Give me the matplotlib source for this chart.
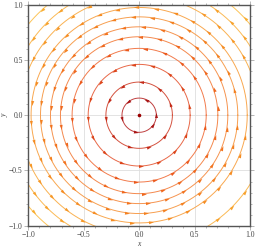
import numpy as np
import matplotlib
matplotlib.use("Agg")
import matplotlib.pyplot as plt
from matplotlib.colors import LinearSegmentedColormap
from matplotlib.markers import MarkerStyle
from matplotlib.path import Path
from matplotlib.transforms import Affine2D

# Streamlines of the field (-y, x): radius, start angle, end angle (deg), first-arrow angle (deg)
arc_radius = [0.155, 0.30, 0.46, 0.605, 0.71, 0.80, 0.89, 0.975,
              1.08, 1.08, 1.08,
              1.18, 1.18, 1.18, 1.18,
              1.295, 1.295, 1.295]
arc_start = [0, 0, 0, 0, 0, 0, 0, 0,
             0, 90, 180,
             0, 90, 180, 270,
             0, 90, 180]
arc_end = [360, 360, 360, 360, 360, 360, 360, 360,
           90, 180, 270,
           90, 180, 270, 360,
           90, 180, 270]
arc_phase = [0, 20, 10, 35, 5, 25, 15, 40,
             30, 115, 205,
             20, 110, 200, 290,
             35, 125, 215]
arrow_spacing = 0.175
x_ticks = [-1.0, -0.5, 0.0, 0.5, 1.0]
y_ticks = [-1.0, -0.5, 0.0, 0.5, 1.0]
tick_labels = ["\u22121.0", "\u22120.5", "0.0", "0.5", "1.0"]

line_cmap = LinearSegmentedColormap.from_list("lines", [
    (0.0, "#a01515"), (0.12, "#c04040"), (0.23, "#d4523f"), (0.35, "#e86848"),
    (0.47, "#f27c4c"), (0.62, "#f69550"), (0.77, "#f9ab50"), (1.0, "#fcc458")])
arrow_cmap = LinearSegmentedColormap.from_list("arrows", [
    (0.0, "#950505"), (0.12, "#a81515"), (0.23, "#c42a18"), (0.35, "#dc441a"),
    (0.47, "#eb5a1c"), (0.62, "#f2741e"), (0.77, "#f58f22"), (1.0, "#f8ac30")])

fig = plt.figure(figsize=(2.56, 2.49), dpi=100)
ax = fig.add_axes([28.3 / 256, 1 - 225.7 / 249, (250 - 28.3) / 256, (225.7 - 4.7) / 249])
ax.set_xlim(-1, 1)
ax.set_ylim(-1, 1)

head = Path([(1.0, 0.0), (-1.0, 0.6), (-1.0, -0.6), (1.0, 0.0)],
            [Path.MOVETO, Path.LINETO, Path.LINETO, Path.CLOSEPOLY])

for r, a0, a1, ph in zip(arc_radius, arc_start, arc_end, arc_phase):
    c = r / 1.3
    th = np.radians(np.linspace(a0, a1, 400))
    ax.plot(r * np.cos(th), r * np.sin(th), color=line_cmap(c), lw=0.7, zorder=2)
    step = np.degrees(arrow_spacing / r)
    ang = ph
    while ang < a0:
        ang += step
    while ang <= a1 - 0.3 * step or (a1 - a0 == 360 and ang < a1):
        if a1 - a0 == 360 and ang >= a0 + 360 - 0.5 * step:
            break
        t = np.radians(ang)
        px, py = r * np.cos(t), r * np.sin(t)
        if abs(px) < 0.99 and abs(py) < 0.99:
            m = MarkerStyle(head, transform=Affine2D().rotate_deg(ang + 90))
            ax.plot(px, py, marker=m, ms=3.6, color=arrow_cmap(c), mec="none", zorder=3)
        ang += step

ax.plot(0, 0, "o", ms=2.6, color="#9a0000", mec="none", zorder=4)

for v in [-0.5, 0.0, 0.5]:
    ax.axvline(v, color="#dedede", lw=0.6, zorder=1)
    ax.axhline(v, color="#dedede", lw=0.6, zorder=1)

for s in ax.spines.values():
    s.set_color("#555555")
    s.set_linewidth(1.0)

ax.set_xticks(x_ticks)
ax.set_yticks(y_ticks)
ax.set_xticklabels(tick_labels)
ax.set_yticklabels(tick_labels)
ax.set_xticks(np.arange(-1, 1.001, 0.1), minor=True)
ax.set_yticks(np.arange(-1, 1.001, 0.1), minor=True)
ax.tick_params(which="both", direction="out", top=True, right=True, color="#999999",
               width=0.5, labelsize=5.5, labelcolor="#444444", pad=1.0)
ax.tick_params(which="major", length=3)
ax.tick_params(which="minor", length=1.6)
for lab in ax.get_xticklabels() + ax.get_yticklabels():
    lab.set_fontfamily("Liberation Serif")

fig.text(139 / 256, 1 - 244 / 249, "x", ha="center", va="center", fontsize=5.5,
         family="Liberation Serif", style="italic", color="#444444")
fig.text(5 / 256, 1 - 115 / 249, "y", ha="center", va="center", fontsize=5.5,
         family="Liberation Serif", style="italic", color="#444444", rotation=90)

fig.savefig("out.png", dpi=100)
